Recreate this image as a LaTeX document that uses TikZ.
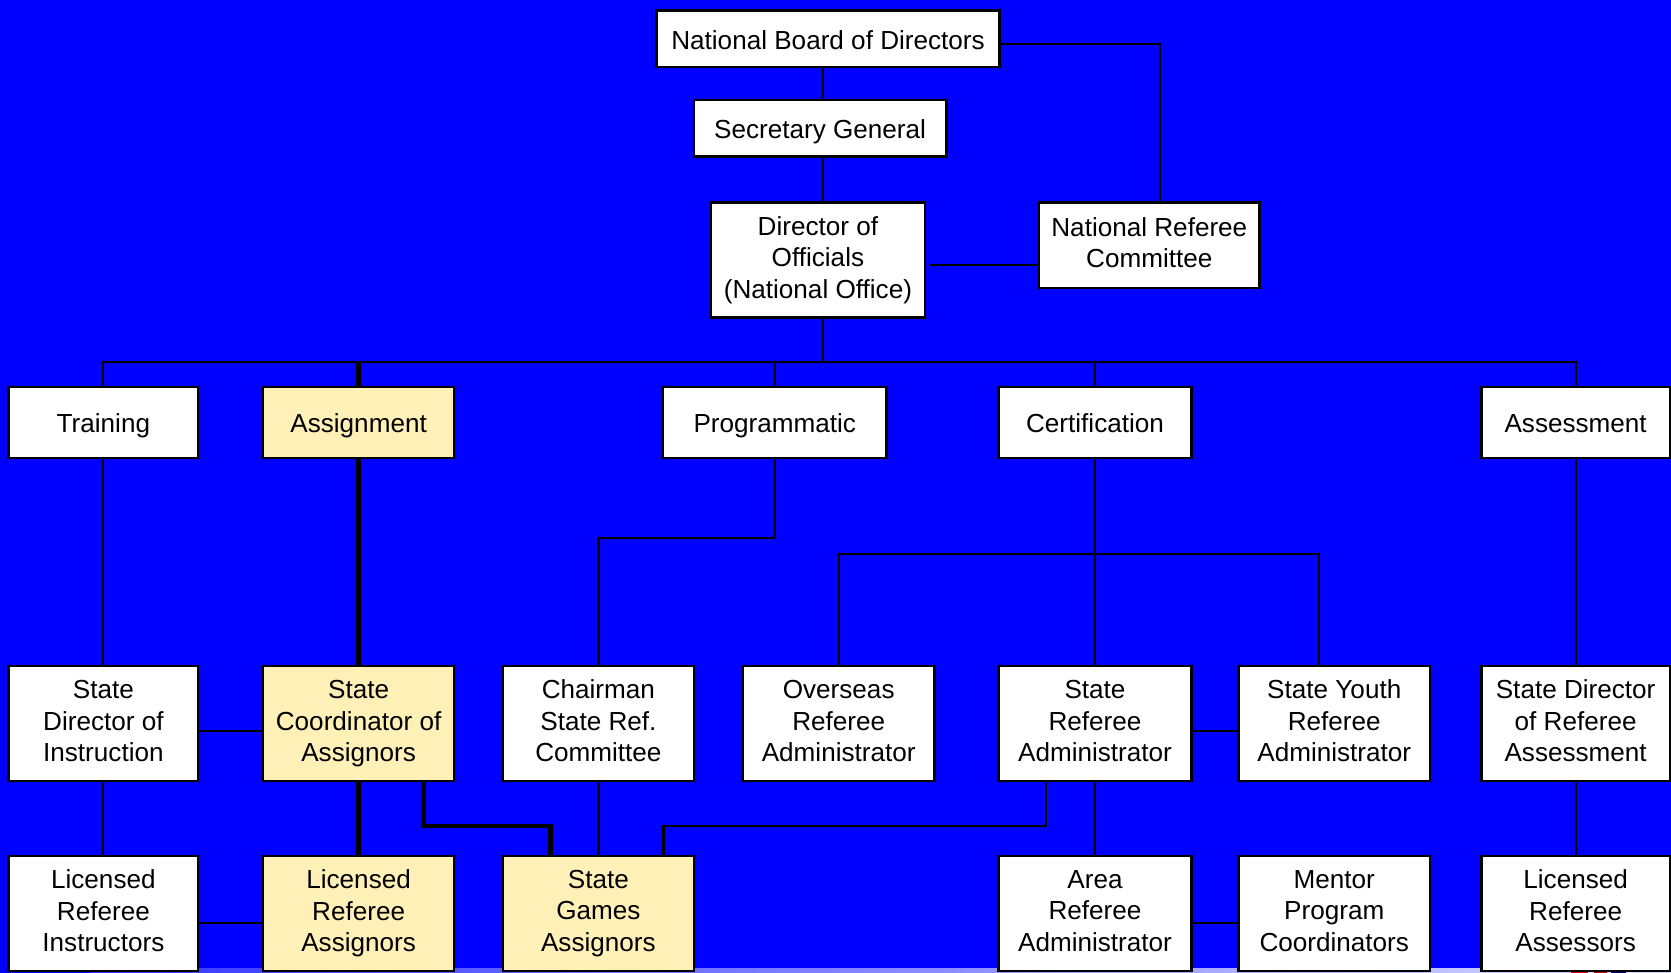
\documentclass[tikz,border=0pt]{standalone}
\usepackage{fontspec}
\setmainfont{Liberation Sans}
\definecolor{bgblue}{RGB}{0,0,255}
\definecolor{boxyellow}{RGB}{255,240,184}
\tikzset{
  box/.style={draw=black, line width=2.2pt, fill=white, inner sep=0pt, align=center,
    font=\fontsize{24.5}{29.5}\selectfont,
    execute at begin node={\rule{0pt}{24pt}}, execute at end node={\rule[-5pt]{0pt}{5pt}}},
  ybox/.style={box, fill=boxyellow},
  link/.style={draw=black, line width=2.1pt},
  tlink/.style={draw=black, line width=4pt},
}
\begin{document}
\begin{tikzpicture}[x=1pt,y=-1pt]
\useasboundingbox (0,0) rectangle (1568,913);
\fill[bgblue] (0,0) rectangle (1568,913);
\shade[left color=bgblue!80!white, right color=white!85!bgblue] (85,909) rectangle (1568,913);
\fill[red!80!black] (1474,909) rectangle (1490,913);
\fill[red!80!black] (1496,909) rectangle (1508,913);
\fill[blue!50!black] (1512,909) rectangle (1526,913);

% top
\node[box, minimum width=322pt, minimum height=53pt] (nbd) at (777,36.5) {National Board of Directors};
\node[box, minimum width=237pt, minimum height=53pt] (sg) at (769.5,120.5) {Secretary General};
\node[box, minimum width=201pt, minimum height=108pt] (dir) at (767.5,244) {Director of\\Officials\\(National Office)};
\node[box, minimum width=207pt, minimum height=80pt] (nrc) at (1078.5,230) {National Referee\\Committee};

% row 2
\node[box, minimum width=178pt, minimum height=67pt] (train) at (97,396.5) {Training};
\node[ybox, minimum width=179pt, minimum height=67pt] (assign) at (336.5,396.5) {Assignment};
\node[box, minimum width=210pt, minimum height=67pt] (prog) at (727,396.5) {Programmatic};
\node[box, minimum width=181pt, minimum height=67pt] (cert) at (1027.5,396.5) {Certification};
\node[box, minimum width=177pt, minimum height=67pt] (assess) at (1478.5,396.5) {Assessment};

% row 3
\node[box, minimum width=178pt, minimum height=108pt] (sdi) at (97,679) {State\\Director of\\Instruction};
\node[ybox, minimum width=179pt, minimum height=108pt] (sca) at (336.5,679) {State\\Coordinator of\\Assignors};
\node[box, minimum width=179pt, minimum height=108pt] (chair) at (561.5,679) {Chairman\\State Ref.\\Committee};
\node[box, minimum width=180pt, minimum height=108pt] (over) at (787,679) {Overseas\\Referee\\Administrator};
\node[box, minimum width=181pt, minimum height=108pt] (sra) at (1027.5,679) {State\\Referee\\Administrator};
\node[box, minimum width=180pt, minimum height=108pt] (syra) at (1252,679) {State Youth\\Referee\\Administrator};
\node[box, minimum width=177pt, minimum height=108pt] (sdra) at (1478.5,679) {State Director\\of Referee\\Assessment};

% row 4
\node[box, minimum width=178pt, minimum height=108pt] (lri) at (97,857) {Licensed\\Referee\\Instructors};
\node[ybox, minimum width=179pt, minimum height=108pt] (lra) at (336.5,857) {Licensed\\Referee\\Assignors};
\node[ybox, minimum width=179pt, minimum height=108pt] (sga) at (561.5,857) {State\\Games\\Assignors};
\node[box, minimum width=181pt, minimum height=108pt] (ara) at (1027.5,857) {Area\\Referee\\Administrator};
\node[box, minimum width=180pt, minimum height=108pt] (mpc) at (1252,857) {Mentor\\Program\\Coordinators};
\node[box, minimum width=177pt, minimum height=108pt] (lras) at (1478.5,857) {Licensed\\Referee\\Assessors};

% connectors top
\draw[link] (nbd.south -| 772,0) -- (sg.north -| 772,0);
\draw[link] (sg.south -| 772,0) -- (dir.north -| 772,0);
\draw[link] (nbd.east |- 0,41) -| ([xshift=10pt]nrc.north);
\draw[link] ([xshift=4pt]dir.east |- 0,249) -- (nrc.west |- 0,249);

% bus
\draw[link] (dir.south -| 772,0) -- (772,340);
\draw[link] (train.north) -- (train.north |- 0,340) -- (assess.north |- 0,340) -- (assess.north);
\draw[tlink] (assign.north) -- (assign.north |- 0,340);
\draw[link] (prog.north) -- (prog.north |- 0,340);
\draw[link] (cert.north) -- (cert.north |- 0,340);

% row 2 -> row 3
\draw[link] (train.south) -- (sdi.north);
\draw[tlink] (assign.south) -- (sca.north);
\draw[link] (prog.south) -- (prog.south |- 0,505) -| (chair.north);
\draw[link] (cert.south) -- (sra.north);
\draw[link] (over.north) -- (over.north |- 0,520) -| ([xshift=-14pt]syra.north);
\draw[link] (assess.south) -- (sdra.north);

% row 3 horizontals
\draw[link] (sdi.east |- 0,686) -- (sca.west |- 0,686);
\draw[link] (sra.east |- 0,686) -- (syra.west |- 0,686);

% row 3 -> row 4
\draw[link] (sdi.south) -- (lri.north);
\draw[tlink] (sca.south) -- (lra.north);
\draw[tlink] ([xshift=61pt]sca.south) -- ([xshift=61pt]sca.south |- 0,775) -| ([xshift=-45pt]sga.north);
\draw[link] (chair.south) -- (sga.north);
\draw[link] ([xshift=-46pt]sra.south) -- ([xshift=-46pt]sra.south |- 0,775) -| ([xshift=61pt]sga.north);
\draw[link] (sra.south) -- (ara.north);
\draw[link] (sdra.south) -- (lras.north);

% row 4 horizontals
\draw[link] (lri.east |- 0,866) -- (lra.west |- 0,866);
\draw[link] (ara.east |- 0,866) -- (mpc.west |- 0,866);
\end{tikzpicture}
\end{document}
